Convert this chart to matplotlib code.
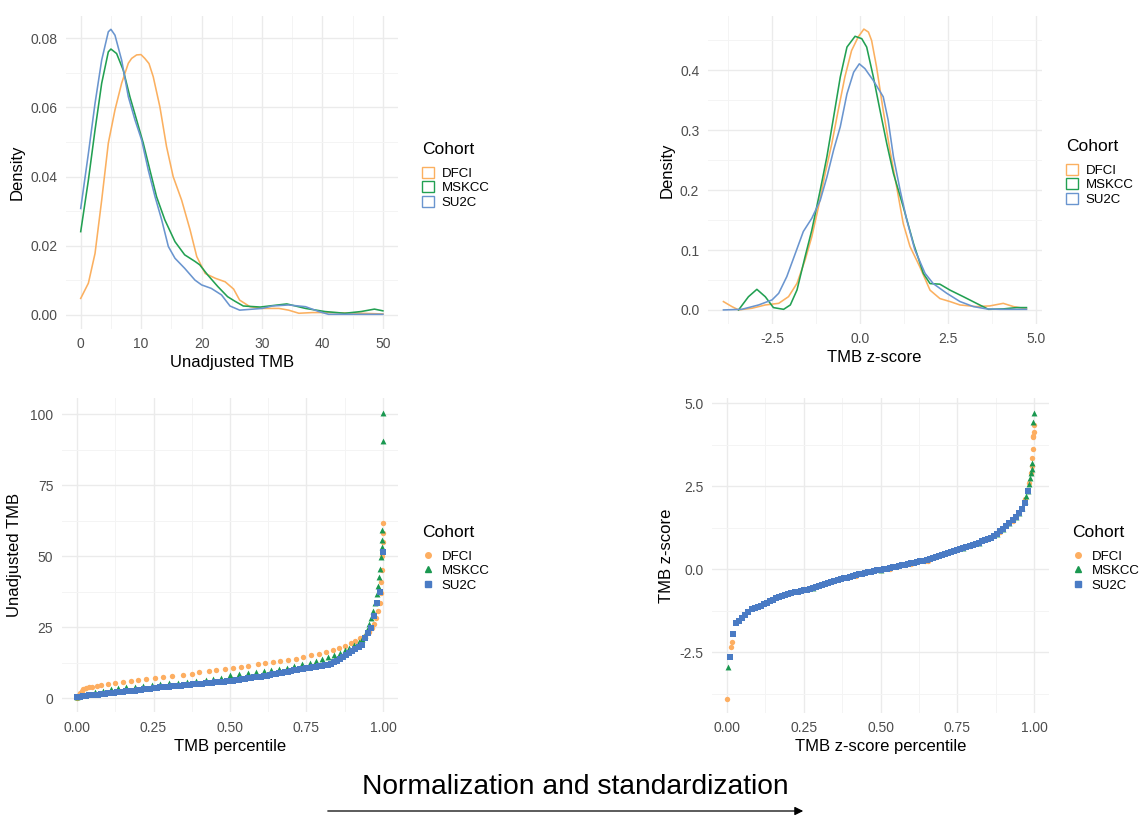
import numpy as np
import matplotlib
matplotlib.use("Agg")
import matplotlib.pyplot as plt
from matplotlib.patches import Patch
from matplotlib.lines import Line2D
from matplotlib.ticker import MultipleLocator

plt.rcParams['font.family'] = ['Liberation Sans', 'DejaVu Sans']

cohorts = ["DFCI", "MSKCC", "SU2C"]
colors = {"DFCI": "#FDAE61", "MSKCC": "#1A9850", "SU2C": "#4A7BC4"}
line_colors = {"DFCI": "#FBB060", "MSKCC": "#22A052", "SU2C": "#6A95CF"}
markers = {"DFCI": "o", "MSKCC": "^", "SU2C": "s"}

# ---- Panel 1: density of unadjusted TMB ----
dens_tmb_x = {
    "DFCI": [0.0, 1.27, 2.37, 3.47, 4.57, 5.67, 6.77, 7.88, 8.43, 9.25, 9.97, 10.6, 11.3, 12.0, 13.1,
             14.2, 15.3, 16.7, 18.1, 19.2, 20.6, 22.3, 23.9, 25.3, 26.3, 28.0, 30.0, 32.8, 34.4, 36.1,
             38.3, 41.0, 46.4, 50.0],
    "MSKCC": [0.0, 1.27, 2.37, 3.47, 4.57, 5.0, 5.94, 7.04, 8.14, 9.25, 10.35, 11.45, 12.55, 13.92, 15.6,
              17.2, 18.9, 19.7, 21.0, 22.7, 24.3, 25.5, 26.9, 29.7, 34.1, 37.2, 40.4, 43.7, 46.4, 48.6, 50.0],
    "SU2C": [0.0, 1.27, 2.37, 3.47, 4.57, 5.0, 5.67, 6.77, 7.88, 8.98, 10.08, 11.18, 12.3, 13.4, 14.5,
             15.6, 17.2, 18.9, 20.0, 21.6, 23.3, 24.7, 26.3, 30.0, 31.7, 34.4, 37.2, 39.4, 41.0, 50.0],
}
dens_tmb_y = {
    "DFCI": [0.0048, 0.0092, 0.0178, 0.0332, 0.0497, 0.0593, 0.0670, 0.0728, 0.0742, 0.0752, 0.0753,
             0.0742, 0.0727, 0.0689, 0.0602, 0.0487, 0.0400, 0.0332, 0.0246, 0.0169, 0.0120, 0.0106,
             0.0096, 0.0075, 0.0043, 0.0024, 0.0019, 0.0019, 0.0014, 0.0005, 0.0007, 0.0007, 0.0005,
             0.0003],
    "MSKCC": [0.0241, 0.0390, 0.0535, 0.0670, 0.0761, 0.0769, 0.0756, 0.0708, 0.0631, 0.0564, 0.0497,
              0.0419, 0.0342, 0.0275, 0.0212, 0.0174, 0.0155, 0.0145, 0.0116, 0.0082, 0.0053, 0.0040,
              0.0026, 0.0023, 0.0032, 0.0019, 0.0010, 0.0005, 0.0010, 0.0017, 0.0012],
    "SU2C": [0.0308, 0.0467, 0.0612, 0.0737, 0.0819, 0.0826, 0.0809, 0.0737, 0.0631, 0.0564, 0.0506,
             0.0419, 0.0342, 0.0275, 0.0198, 0.0164, 0.0135, 0.0101, 0.0087, 0.0077, 0.0058, 0.0026,
             0.0014, 0.0019, 0.0026, 0.0029, 0.0024, 0.0010, 0.0002, 0.0002],
}

# ---- Panel 2: density of TMB z-score ----
dens_z_x = {
    "DFCI": [-3.88, -3.64, -3.45, -3.07, -2.69, -2.31, -2.03, -1.79, -1.56, -1.37, -1.18, -0.99, -0.80,
             -0.62, -0.43, -0.24, -0.05, 0.11, 0.24, 0.33, 0.47, 0.66, 0.85, 1.04, 1.23, 1.42, 1.70,
             1.99, 2.27, 2.56, 2.84, 3.31, 3.69, 4.07, 4.36, 4.73],
    "MSKCC": [-3.45, -3.17, -2.93, -2.69, -2.46, -2.17, -1.98, -1.79, -1.56, -1.37, -1.13, -0.94, -0.75,
              -0.56, -0.37, -0.14, 0.05, 0.19, 0.38, 0.57, 0.76, 0.95, 1.23, 1.52, 1.80, 1.99, 2.27,
              2.56, 2.94, 3.31, 3.65, 4.07, 4.45, 4.73],
    "SU2C": [-3.88, -3.36, -2.88, -2.50, -2.31, -2.08, -1.84, -1.61, -1.37, -1.13, -0.94, -0.75, -0.56,
             -0.37, -0.18, -0.02, 0.14, 0.38, 0.66, 0.80, 0.95, 1.14, 1.33, 1.56, 1.85, 2.08, 2.46,
             2.84, 3.22, 3.60, 3.98, 4.73],
}
dens_z_y = {
    "DFCI": [0.0139, 0.0056, 0.0, 0.0028, 0.0083, 0.0110, 0.0222, 0.0444, 0.0833, 0.122, 0.172, 0.228,
             0.278, 0.333, 0.389, 0.433, 0.456, 0.469, 0.464, 0.450, 0.406, 0.333, 0.267, 0.206, 0.144,
             0.106, 0.072, 0.033, 0.019, 0.0139, 0.0083, 0.0056, 0.0067, 0.0110, 0.0056, 0.0017],
    "MSKCC": [0.0, 0.022, 0.0344, 0.022, 0.0039, 0.0010, 0.0083, 0.0333, 0.089, 0.133, 0.200, 0.256,
              0.322, 0.389, 0.439, 0.457, 0.453, 0.439, 0.389, 0.333, 0.278, 0.228, 0.172, 0.111, 0.061,
              0.044, 0.043, 0.033, 0.022, 0.011, 0.001, 0.0017, 0.0039, 0.0039],
    "SU2C": [0.0, 0.001, 0.0083, 0.0167, 0.0278, 0.0556, 0.094, 0.131, 0.153, 0.183, 0.222, 0.267, 0.306,
             0.361, 0.397, 0.411, 0.403, 0.383, 0.356, 0.317, 0.256, 0.200, 0.150, 0.100, 0.061, 0.044,
             0.028, 0.014, 0.0056, 0.0017, 0.001, 0.001],
}

# ---- Panel 3: unadjusted TMB vs percentile ----
dfci_pct = [0.0, 0.005, 0.01, 0.015, 0.02, 0.03, 0.04, 0.05, 0.065, 0.08, 0.1, 0.125, 0.15, 0.175, 0.2,
            0.225, 0.255, 0.28, 0.31, 0.345, 0.375, 0.4, 0.43, 0.455, 0.485, 0.51, 0.535, 0.56, 0.59,
            0.615, 0.64, 0.665, 0.69, 0.715, 0.74, 0.765, 0.79, 0.815, 0.835, 0.855, 0.875, 0.895, 0.91,
            0.925, 0.94, 0.955, 0.965, 0.972, 0.978, 0.984, 0.989, 0.992, 0.995, 0.997, 0.998, 0.999,
            1.0, 1.0]
dfci_tmb = [0.0, 1.0, 1.8, 2.6, 3.0, 3.4, 3.7, 3.9, 4.2, 4.5, 4.9, 5.3, 5.8, 6.1, 6.4, 6.7, 7.1, 7.4,
            7.7, 8.2, 8.6, 9.0, 9.4, 9.8, 10.3, 10.6, 11.0, 11.4, 11.9, 12.3, 12.6, 13.0, 13.4, 13.9,
            14.4, 15.0, 15.6, 16.2, 16.8, 17.5, 18.3, 19.2, 20.0, 21.0, 22.0, 23.3, 24.6, 26.0, 28.0,
            30.5, 33.5, 37.0, 41.0, 45.0, 50.0, 55.0, 58.0, 61.7]
mskcc_pct = [0.0, 0.01, 0.03, 0.06, 0.085, 0.11, 0.135, 0.16, 0.19, 0.215, 0.245, 0.27, 0.3, 0.33, 0.36,
             0.39, 0.42, 0.445, 0.47, 0.5, 0.53, 0.56, 0.585, 0.61, 0.635, 0.66, 0.685, 0.71, 0.735,
             0.76, 0.78, 0.8, 0.82, 0.84, 0.86, 0.875, 0.89, 0.905, 0.92, 0.93, 0.94, 0.948, 0.955,
             0.962, 0.968, 0.974, 0.979, 0.984, 0.988, 0.991, 0.994, 0.996, 0.997, 0.998, 0.999, 1.0]
mskcc_tmb = [0.3, 0.9, 1.4, 2.0, 2.5, 3.0, 3.4, 3.7, 4.0, 4.3, 4.6, 4.9, 5.2, 5.4, 5.7, 6.0, 6.3, 6.6,
             7.0, 8.1, 8.4, 8.8, 9.1, 9.4, 9.8, 10.2, 10.7, 11.2, 11.8, 12.5, 13.2, 13.8, 14.4, 15.2,
             16.0, 16.8, 17.6, 18.5, 19.6, 20.8, 22.3, 24.0, 26.0, 28.2, 30.5, 33.5, 36.5, 39.5, 42.5,
             45.5, 49.5, 53.0, 55.5, 59.2, 90.5, 100.5]
su2c_tmb = [0.2, 0.5, 0.7, 0.8, 0.9, 1.0, 1.1, 1.2, 1.3, 1.5, 1.7,
            1.8, 1.9, 2.0, 2.1, 2.2, 2.3, 2.4, 2.5, 2.6, 2.8,
            2.9, 3.0, 3.2, 3.3, 3.4, 3.5, 3.7, 3.8, 3.9, 4.0,
            4.1, 4.2, 4.3, 4.4, 4.5, 4.6, 4.7, 4.8, 4.9, 5.0,
            5.1, 5.2, 5.3, 5.4, 5.5, 5.6, 5.7, 5.8, 5.9, 5.9,
            6.0, 6.2, 6.4, 6.6, 6.8, 7.0, 7.1, 7.3, 7.4, 7.5,
            7.7, 7.9, 8.1, 8.3, 8.5, 8.7, 8.9, 9.1, 9.3, 9.5,
            9.7, 9.9, 10.1, 10.3, 10.5, 10.7, 10.9, 11.0, 11.2, 11.4,
            11.5, 11.7, 12.1, 12.6, 13.2, 13.8, 14.4, 15.1, 15.8, 16.5,
            17.2, 17.8, 18.6, 21.0, 23.0, 24.5, 29.0, 33.5, 37.4, 51.5]

# ---- Panel 4: TMB z-score vs pooled z-score percentile ----
dfci_zpct = [0.0, 0.012, 0.015, 0.05, 0.13, 0.21, 0.25, 0.35, 0.42, 0.53, 0.6, 0.645, 0.655, 0.68,
             0.745, 0.79, 0.85, 0.89, 0.93, 0.97, 0.985, 0.99, 0.993, 0.995, 0.996, 0.997, 0.998,
             0.999, 1.0]
dfci_z = [-3.9, -2.34, -2.2, -1.45, -1.0, -0.72, -0.6, -0.35, -0.2, 0.0, 0.15, 0.25, 0.25, 0.36,
          0.56, 0.7, 0.9, 1.12, 1.45, 2.1, 2.6, 2.9, 3.1, 3.33, 3.63, 3.97, 4.0, 4.14, 4.35]
mskcc_zpct = [0.004, 0.28, 0.5, 0.77, 0.82, 0.88, 0.9, 0.92, 0.94, 0.95, 0.96, 0.97, 0.975, 0.98,
              0.985, 0.988, 0.99, 0.993, 0.995, 0.998, 1.0]
mskcc_z = [-2.94, -0.58, -0.02, 0.64, 0.79, 1.05, 1.2, 1.38, 1.57, 1.7, 1.85, 2.05, 2.2, 2.35, 2.55,
           2.75, 2.9, 3.0, 3.18, 4.44, 4.71]
su2c_z = [-2.64, -1.95, -1.62, -1.55, -1.47, -1.38, -1.28, -1.20, -1.16, -1.14,
          -1.12, -1.06, -1.01, -0.97, -0.92, -0.88, -0.85, -0.81, -0.78, -0.75,
          -0.72, -0.70, -0.68, -0.66, -0.64, -0.62, -0.60, -0.57, -0.54, -0.51,
          -0.48, -0.45, -0.42, -0.39, -0.36, -0.33, -0.30, -0.28, -0.26, -0.24,
          -0.21, -0.18, -0.16, -0.14, -0.12, -0.10, -0.08, -0.06, -0.04, -0.02,
          0.00, 0.01, 0.03, 0.05, 0.07, 0.09, 0.11, 0.13, 0.15, 0.17,
          0.19, 0.21, 0.23, 0.25, 0.28, 0.31, 0.34, 0.37, 0.40, 0.43,
          0.46, 0.48, 0.51, 0.54, 0.57, 0.60, 0.63, 0.66, 0.69, 0.72,
          0.75, 0.79, 0.83, 0.87, 0.91, 0.95, 0.99, 1.06, 1.14, 1.22,
          1.30, 1.39, 1.48, 1.58, 1.68, 1.80, 2.00, 2.35]
su2c_zpct_range = (0.01, 0.98)

W, H = 1141, 817
fig = plt.figure(figsize=(W / 100, H / 100), dpi=100)
fig.patch.set_facecolor("white")


def px_axes(left, top, right, bottom):
    return fig.add_axes([left / W, 1 - bottom / H, (right - left) / W, (bottom - top) / H])


def style(ax, xmaj, xmin_, ymaj, ymin_):
    ax.set_facecolor("white")
    for s in ax.spines.values():
        s.set_visible(False)
    ax.xaxis.set_major_locator(MultipleLocator(xmaj))
    ax.xaxis.set_minor_locator(MultipleLocator(xmin_))
    ax.yaxis.set_major_locator(MultipleLocator(ymaj))
    ax.yaxis.set_minor_locator(MultipleLocator(ymin_))
    ax.grid(True, which="major", color="#EBEBEB", lw=1.0)
    ax.grid(True, which="minor", color="#F4F4F4", lw=0.7)
    ax.set_axisbelow(True)
    ax.tick_params(which="both", length=0, labelsize=10, colors="#4D4D4D", pad=6)


def add_legend(handles, x, y):
    leg = fig.legend(handles=handles, labels=cohorts, title="Cohort", loc="upper left",
                     bbox_to_anchor=(x / W, 1 - y / H), frameon=False, fontsize=9.5,
                     title_fontsize=12.5, handlelength=0.9, handleheight=0.9,
                     labelspacing=0.12, handletextpad=0.6, borderaxespad=0, borderpad=0)
    leg._legend_box.align = "left"
    leg._legend_box.sep = 7
    return leg


# Panel 1
ax1 = px_axes(65.6, 15.5, 398, 329)
style(ax1, 10, 5, 0.02, 0.01)
for c in cohorts:
    ax1.plot(dens_tmb_x[c], dens_tmb_y[c], color=line_colors[c], lw=1.15)
ax1.set_xlim(-2.5, 52.5)
ax1.set_ylim(-0.00405, 0.0866)
ax1.yaxis.set_major_formatter(matplotlib.ticker.FormatStrFormatter("%.2f"))
ax1.set_xlabel("Unadjusted TMB", fontsize=12, color="black", labelpad=3)
ax1.set_ylabel("Density", fontsize=12, color="black", labelpad=4)
add_legend([Patch(facecolor="white", edgecolor=line_colors[c], lw=1.0) for c in cohorts], 422, 142)

# Panel 2
ax2 = px_axes(707.6, 15.5, 1041.6, 324)
style(ax2, 2.5, 1.25, 0.1, 0.05)
for c in cohorts:
    ax2.plot(dens_z_x[c], dens_z_y[c], color=line_colors[c], lw=1.15)
ax2.set_xlim(-4.33, 5.16)
ax2.set_ylim(-0.0235, 0.4917)
ax2.xaxis.set_major_formatter(matplotlib.ticker.FormatStrFormatter("%.1f"))
ax2.yaxis.set_major_formatter(matplotlib.ticker.FormatStrFormatter("%.1f"))
ax2.set_xlabel("TMB z-score", fontsize=12, color="black", labelpad=3)
ax2.set_ylabel("Density", fontsize=12, color="black", labelpad=4)
add_legend([Patch(facecolor="white", edgecolor=line_colors[c], lw=1.0) for c in cohorts], 1066, 139)

# Panel 3
ax3 = px_axes(61.7, 398.4, 398.3, 712.2)
style(ax3, 0.25, 0.125, 25, 12.5)
su2c_pct = np.arange(len(su2c_tmb)) / (len(su2c_tmb) - 1)
p3 = {"DFCI": (dfci_pct, dfci_tmb), "MSKCC": (mskcc_pct, mskcc_tmb), "SU2C": (su2c_pct, su2c_tmb)}
sizes = {"DFCI": 15, "MSKCC": 18, "SU2C": 13}
for c in cohorts:
    ax3.scatter(p3[c][0], p3[c][1], s=sizes[c], marker=markers[c], color=colors[c], linewidths=0)
ax3.set_xlim(-0.05, 1.05)
ax3.set_ylim(-5.0, 105.5)
ax3.xaxis.set_major_formatter(matplotlib.ticker.FormatStrFormatter("%.2f"))
ax3.set_xlabel("TMB percentile", fontsize=12, color="black", labelpad=3)
ax3.set_ylabel("Unadjusted TMB", fontsize=12, color="black", labelpad=6)
add_legend([Line2D([], [], ls="none", marker=markers[c], color=colors[c], markersize=4) for c in cohorts], 422, 525)

# Panel 4
ax4 = px_axes(711.65, 398.4, 1049.35, 712.8)
style(ax4, 0.25, 0.125, 2.5, 1.25)
su2c_zpct = np.linspace(su2c_zpct_range[0], su2c_zpct_range[1], len(su2c_z))
p4 = {"DFCI": (dfci_zpct, dfci_z), "MSKCC": (mskcc_zpct, mskcc_z), "SU2C": (su2c_zpct, su2c_z)}
for c in cohorts:
    ax4.scatter(p4[c][0], p4[c][1], s=sizes[c], marker=markers[c], color=colors[c], linewidths=0)
ax4.set_xlim(-0.05, 1.05)
ax4.set_ylim(-4.33, 5.14)
ax4.xaxis.set_major_formatter(matplotlib.ticker.FormatStrFormatter("%.2f"))
ax4.yaxis.set_major_formatter(matplotlib.ticker.FormatStrFormatter("%.1f"))
ax4.set_xlabel("TMB z-score percentile", fontsize=12, color="black", labelpad=3)
ax4.set_ylabel("TMB z-score", fontsize=12, color="black", labelpad=4)
add_legend([Line2D([], [], ls="none", marker=markers[c], color=colors[c], markersize=4) for c in cohorts], 1072, 525)

# Bottom annotation
fig.text(575 / W, 1 - 787 / H, "Normalization and standardization", fontsize=20.3,
         ha="center", va="center", color="black")
fig.add_artist(matplotlib.patches.FancyArrowPatch(
    (325 / W, 1 - 811 / H), (806 / W, 1 - 811 / H), transform=fig.transFigure,
    arrowstyle="-|>,head_length=5,head_width=2.5", color="black", lw=0.9, mutation_scale=1))

fig.savefig("out.png", dpi=100, facecolor="white")
